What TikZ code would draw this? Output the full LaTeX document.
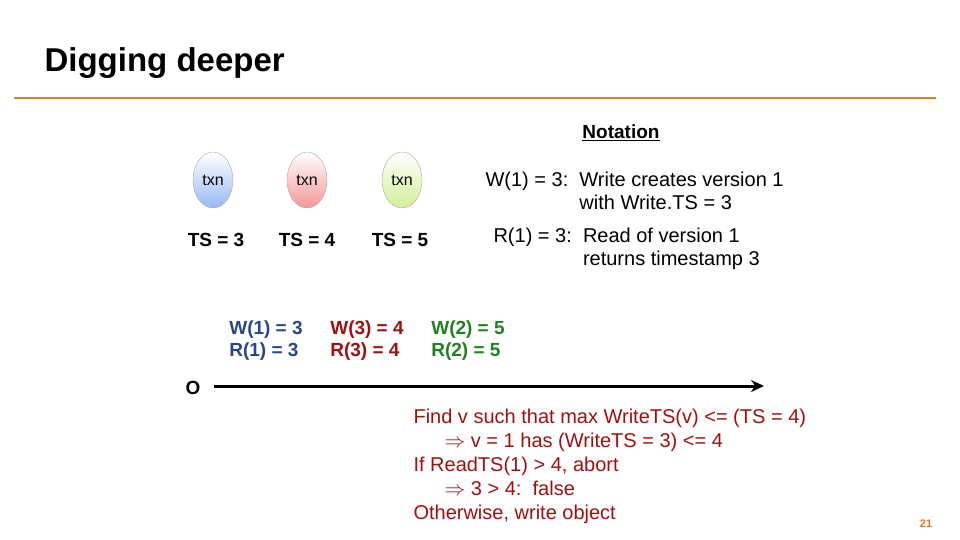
\documentclass[tikz,border=0pt]{standalone}
\usepackage{fontspec}
\setmainfont{Liberation Sans}
\usetikzlibrary{shapes.geometric,arrows.meta}
\definecolor{orng}{RGB}{232,118,28}
\definecolor{dred}{RGB}{160,16,16}
\definecolor{dblue}{RGB}{40,70,140}
\definecolor{dgreen}{RGB}{30,130,30}
\definecolor{eblue}{RGB}{150,185,245}
\definecolor{ered}{RGB}{245,150,150}
\definecolor{egreen}{RGB}{210,240,150}
\tikzset{
 txn/.style={ellipse,draw=gray!70,minimum width=40pt,minimum height=56pt,inner sep=0pt,font=\fontsize{16}{16}\selectfont},
 ts/.style={font=\fontsize{19}{19}\selectfont\bfseries},
 ops/.style={font=\fontsize{19}{22}\selectfont\bfseries,align=left},
 body/.style={font=\fontsize{20}{24}\selectfont,align=left},
}
\begin{document}
\begin{tikzpicture}[x=1pt,y=-1pt]
\useasboundingbox (0,0) rectangle (960,540);
\node[anchor=west,font=\fontsize{33}{33}\selectfont\bfseries] (title) at (41,63) {Digging deeper};
\draw[orng,line width=2.5pt] (14,98) -- (936,98);
\node[txn,top color=white,bottom color=eblue] (t1) at (213,180) {txn};
\node[txn,top color=white,bottom color=ered] (t2) at (307,180) {txn};
\node[txn,top color=white,bottom color=egreen] (t3) at (402,180) {txn};
\node[ts] (s1) at (216,240) {TS = 3};
\node[ts] (s2) at (307,240) {TS = 4};
\node[ts] (s3) at (400,240) {TS = 5};
\node[font=\fontsize{19}{19}\selectfont\bfseries] (not) at (621,133) {\underline{Notation}};
\node[anchor=north west,body,font=\fontsize{20}{23}\selectfont] (n1) at (482,168) {W(1) = 3:\ \ Write creates version 1\\\hphantom{W(1) = 3:\ \ }with Write.TS = 3};
\node[anchor=north west,body,font=\fontsize{20}{23}\selectfont] (n2) at (490,224) {R(1) = 3:\ \ Read of version 1\\\hphantom{R(1) = 3:\ \ }returns timestamp 3};
\node[ops,text=dblue] (o1) at (266,341) {W(1) = 3\\R(1) = 3};
\node[ops,text=dred] (o2) at (367,341) {W(3) = 4\\R(3) = 4};
\node[ops,text=dgreen] (o3) at (468,341) {W(2) = 5\\R(2) = 5};
\node[font=\fontsize{19}{19}\selectfont\bfseries] (o) at (193,388) {O};
\coordinate (ae) at (764,386);
\draw[line width=3pt,-{Stealth[length=13pt,width=12pt]}] (o.east)+(10,-2) -- (ae);
\node[anchor=north west,body,text=dred] (b) at (410,405) {Find v such that max WriteTS(v) <= (TS = 4)\\
\quad\ \ $\Rightarrow$ v = 1 has (WriteTS = 3) <= 4\\
If ReadTS(1) > 4, abort\\
\quad\ \ $\Rightarrow$ 3 > 4:\ \ false\\
Otherwise, write object};
\node[font=\fontsize{11}{11}\selectfont\bfseries,text=orng] (pg) at (926,524) {21};
\end{tikzpicture}
\end{document}
